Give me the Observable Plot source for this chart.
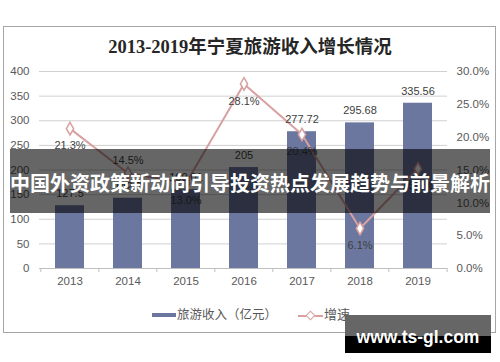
<!DOCTYPE html>
<html><head><meta charset="utf-8">
<script src="https://cdn.jsdelivr.net/npm/d3@7"></script>
<script src="https://cdn.jsdelivr.net/npm/@observablehq/plot@0.6"></script>
<style>
html,body{margin:0;padding:0;background:#fff;}
#wrap{position:relative;width:500px;height:362px;overflow:hidden;background:#fff;}
.abs{position:absolute;}
.cjk{font-family:"Noto Sans CJK SC","Noto Sans",sans-serif;}
</style></head><body>
<div id="wrap">
  <div id="chart" class="abs" style="left:0;top:0;"></div>
  <div class="abs" style="left:3px;top:26px;width:493px;height:307px;border:1px solid #a6a6a6;box-sizing:border-box;"></div>
  <div class="abs" style="left:0;top:38px;width:500px;text-align:center;font:bold 18.5px/19px 'Liberation Serif','Noto Sans CJK SC',serif;color:#262626;">2013-2019年宁夏旅游收入增长情况</div>
  <!-- legend -->
  <div class="abs" style="left:151.5px;top:312.5px;width:24px;height:4.5px;background:#6b779f;"></div>
  <div class="abs cjk" style="left:177px;top:307px;font-size:12.5px;line-height:14px;color:#595959;white-space:nowrap;">旅游收入（亿元）</div>
  <div class="abs" style="left:298px;top:314.5px;width:25px;height:2px;background:#d8a0a0;"></div>
  <div class="abs" style="left:307px;top:312px;width:5px;height:5px;background:#fff;border:1.5px solid #d8a0a0;transform:rotate(45deg);"></div>
  <div class="abs cjk" style="left:324px;top:307px;font-size:13px;line-height:14px;color:#595959;white-space:nowrap;">增速</div>
  <!-- banner overlay -->
  <div class="abs" style="left:10px;top:149px;width:480px;height:64px;background:rgba(0,0,0,0.6);"></div>
  <div class="abs cjk" style="left:10px;top:173px;width:480px;text-align:center;font-weight:bold;font-size:20px;line-height:20px;color:#fff;white-space:nowrap;">中国外资政策新动向引导投资热点发展趋势与前景解析</div>
  <!-- watermark -->
  <div class="abs" style="left:345px;top:315px;width:146px;height:21px;background:#666;"></div>
  <div class="abs" style="left:345px;top:336px;width:146px;height:17px;background:#000;"></div>
  <div class="abs" style="left:345px;top:327px;width:146px;text-align:center;font:bold 17.5px/20px 'Liberation Sans',Arial,sans-serif;color:#fff;">www.ts-gl.com</div>
</div>
<script>
const years = ["2013", "2014", "2015", "2016", "2017", "2018", "2019"];
const revenue = [127.5, 142.7, 160.01, 205, 277.72, 295.68, 335.56];
const growth = [21.3, 14.5, 13.0, 28.1, 20.4, 6.1, 15.2];
const revTicks = [0, 50, 100, 150, 200, 250, 300, 350, 400];
const growthTicks = [0, 5, 10, 15, 20, 25, 30];

const data = years.map((year, i) => ({year, revenue: revenue[i], growth: growth[i]}));
const k = revTicks[revTicks.length - 1] / growthTicks[growthTicks.length - 1];

const W = 500, H = 362, mL = 39, mR = 53, mT = 71, mB = 94;
const step = (W - mL - mR) / years.length;
const barColor = "#6b779f", lineColor = "#d8a0a0";

const chart = Plot.plot({
  width: W, height: H,
  marginTop: mT, marginBottom: mB, marginLeft: mL, marginRight: mR,
  style: {background: "transparent", fontFamily: "'Liberation Sans', Arial, sans-serif", fontSize: "11.5px", color: "#595959", overflow: "visible"},
  x: {domain: years, paddingInner: 0.5, paddingOuter: 0.25, label: null},
  y: {domain: [0, 400], label: null},
  marks: [
    Plot.ruleY(revTicks.slice(1), {stroke: "#d0d0d0", strokeWidth: 1}),
    Plot.barY(data, {x: "year", y: "revenue", fill: barColor}),
    Plot.ruleY([0], {stroke: "#bfbfbf", strokeWidth: 1}),
    Plot.axisX({ticks: years, tickSize: 4, tickFormat: () => "", dx: -step / 2, stroke: "#bfbfbf"}),
    Plot.axisX({ticks: years.slice(-1), tickSize: 4, tickFormat: () => "", dx: step / 2, stroke: "#bfbfbf"}),
    Plot.axisX({ticks: years, tickSize: 0, tickPadding: 8, fontSize: 11.5, fill: "#595959"}),
    Plot.axisY({ticks: revTicks, tickSize: 0, tickPadding: 10, fontSize: 11.5, fill: "#595959"}),
    Plot.axisY({anchor: "right", ticks: growthTicks.map(g => g * k), tickFormat: v => (v / k).toFixed(1) + "%", tickSize: 0, tickPadding: 9, fontSize: 11.5, fill: "#595959"}),
    Plot.line(data, {x: "year", y: d => d.growth * k, stroke: lineColor, strokeWidth: 2}),
    Plot.dot(data, {x: "year", y: d => d.growth * k, symbol: "diamond", r: 3.8, fill: "white", stroke: lineColor, strokeWidth: 1.5}),
    Plot.text(data, {x: "year", y: "revenue", text: d => String(d.revenue), dy: -12, fontSize: 11, fill: "#404040"}),
    Plot.text(data, {filter: (d, i) => i !== 1, x: "year", y: d => d.growth * k, text: d => d.growth.toFixed(1) + "%", dy: 17, fontSize: 11, fill: "#404040"}),
    Plot.text(data, {filter: (d, i) => i === 1, x: "year", y: d => d.growth * k, text: d => d.growth.toFixed(1) + "%", dy: -13, fontSize: 11, fill: "#404040"})
  ]
});
document.getElementById("chart").appendChild(chart);
</script>
</body></html>
